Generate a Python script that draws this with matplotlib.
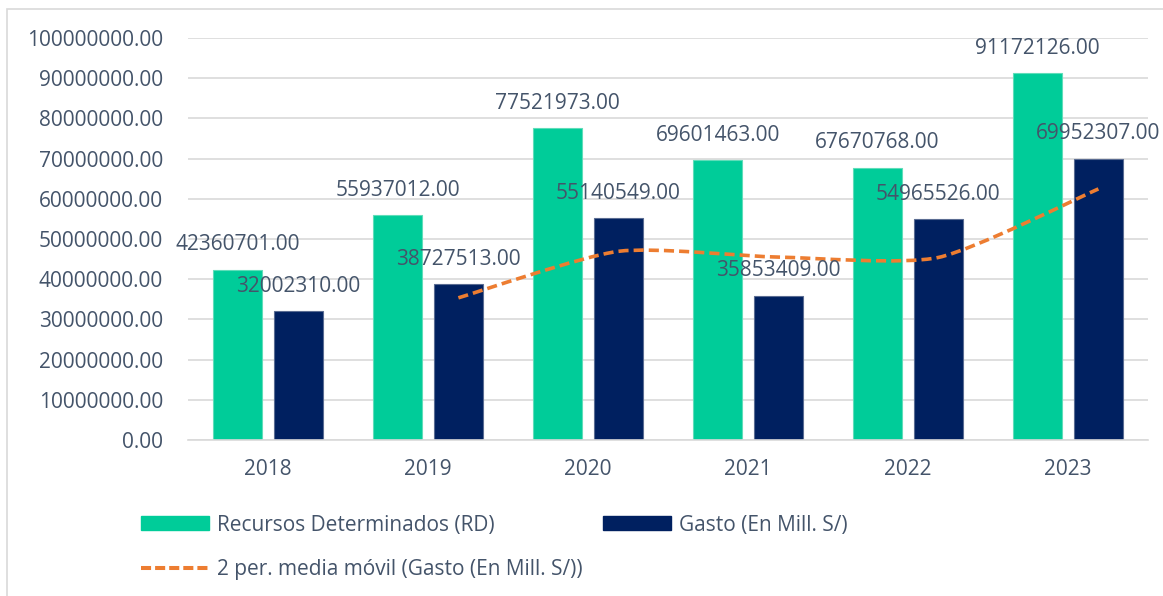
import numpy as np
import matplotlib
matplotlib.use('Agg')
import matplotlib.pyplot as plt
from matplotlib.path import Path
from matplotlib.patches import PathPatch, Rectangle, Patch
from matplotlib.lines import Line2D

# ==== datos ====
years = ['2018', '2019', '2020', '2021', '2022', '2023']
recursos = [42360701.00, 55937012.00, 77521973.00, 69601463.00, 67670768.00, 91172126.00]
gasto = [32002310.00, 38727513.00, 55140549.00, 35853409.00, 54965526.00, 69952307.00]
y_ticks = [0, 10000000, 20000000, 30000000, 40000000, 50000000,
           60000000, 70000000, 80000000, 90000000, 100000000]

label_rd = 'Recursos Determinados (RD)'
label_gasto = 'Gasto (En Mill. S/)'
label_mm = '2 per. media móvil (Gasto (En Mill. S/))'

# ==== estilos ====
c_green = '#00CC99'
c_navy = '#002060'
c_orange = '#ED7D31'
c_text = '#44546A'
c_grid = '#D9D9D9'

plt.rcParams['font.family'] = ['Open Sans', 'DejaVu Sans']
fs = 15

fig = plt.figure(figsize=(11.63, 5.96), dpi=100)
ax = fig.add_axes([188/1163, 1 - 440/596, 960/1163, 402/596])

x = np.arange(len(years))
w = 0.305
off = 0.19
ax.bar(x - off, recursos, w, color=c_green, edgecolor='#5FDDB9', linewidth=0.8, zorder=2)
ax.bar(x + off, gasto, w, color=c_navy, edgecolor='#5A6C92', linewidth=0.8, zorder=2)

# etiquetas de datos
for xi, v in zip(x - off, recursos):
    ax.annotate(f'{v:.2f}', (xi, v), xytext=(0, 25), textcoords='offset pixels',
                ha='center', va='center', fontsize=fs, color=c_text, zorder=5,
                annotation_clip=False)
for xi, v in zip(x + off, gasto):
    ax.annotate(f'{v:.2f}', (xi, v), xytext=(0, 25), textcoords='offset pixels',
                ha='center', va='center', fontsize=fs, color=c_text, zorder=5,
                annotation_clip=False)

# media movil de 2 periodos (linea suavizada tipo Excel)
g = np.array(gasto)
mm = (g[1:] + g[:-1]) / 2
mx = x[1:] + off
pts = np.column_stack([mx, mm])
verts = [pts[0]]
codes = [Path.MOVETO]
n = len(pts)
k = 1 / 9
for i in range(n - 1):
    p0 = pts[i - 1] if i > 0 else pts[i]
    p1 = pts[i]
    p2 = pts[i + 1]
    p3 = pts[i + 2] if i + 2 < n else pts[i + 1]
    verts += [p1 + (p2 - p0) * k, p2 - (p3 - p1) * k, p2]
    codes += [Path.CURVE4] * 3
ax.add_patch(PathPatch(Path(verts, codes), fill=False, edgecolor=c_orange,
                       linewidth=2.6, linestyle=(0, (2.8, 1.4)), zorder=4,
                       capstyle='butt'))

ax.set_xlim(-0.5, 5.5)
ax.set_ylim(0, 100000000)
ax.set_yticks(y_ticks)
ax.set_yticklabels([f'{t:.2f}' for t in y_ticks])
ax.set_xticks(x)
ax.set_xticklabels(years)
ax.tick_params(axis='both', length=0, labelsize=fs, colors=c_text)
ax.tick_params(axis='y', pad=18)
ax.tick_params(axis='x', pad=14)
ax.grid(axis='y', color=c_grid, linewidth=1.2, zorder=0)
ax.set_axisbelow(True)
for s in ['top', 'right', 'left']:
    ax.spines[s].set_visible(False)
ax.spines['bottom'].set_color(c_grid)
ax.spines['bottom'].set_linewidth(1.2)

# ==== leyenda ====
leg_kw = dict(frameon=False, fontsize=fs, labelcolor=c_text, loc='center left',
              handlelength=3.27, handleheight=0.67, handletextpad=0.38,
              borderpad=0, borderaxespad=0)
fig.legend([Patch(color=c_green)], [label_rd],
           bbox_to_anchor=(141/1163, 1 - 525/596), **leg_kw)
fig.legend([Patch(color=c_navy)], [label_gasto],
           bbox_to_anchor=(603/1163, 1 - 525/596), **leg_kw)
fig.legend([Line2D([], [], color=c_orange, lw=2.9, ls=(0, (2.5, 1.0)))], [label_mm],
           bbox_to_anchor=(141/1163, 1 - 570/596), **leg_kw)

# borde del grafico
fig.patches.append(Rectangle((7/1163, -0.02), 1.1, 1 - 9/596 + 0.02, transform=fig.transFigure,
                             fill=False, edgecolor=c_grid, linewidth=1.2))

fig.savefig('out.png', dpi=100)
